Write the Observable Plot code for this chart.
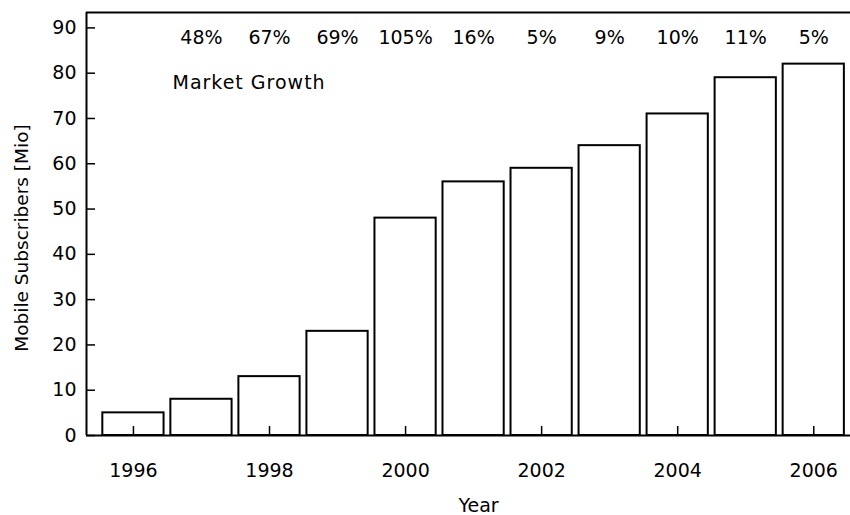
<!DOCTYPE html>
<html>
<head>
<meta charset="utf-8">
<script src="https://cdn.jsdelivr.net/npm/d3@7"></script>
<script src="https://cdn.jsdelivr.net/npm/@observablehq/plot@0.6"></script>
<style>
  html, body { margin: 0; padding: 0; background: #fff; overflow: hidden; }
</style>
</head>
<body>
<div id="chart"></div>
<script>
// Mobile subscribers per year, in millions
const years = [1996, 1997, 1998, 1999, 2000, 2001, 2002, 2003, 2004, 2005, 2006];
const subscribers = [5, 8, 13, 23, 48, 56, 59, 64, 71, 79, 82];

// Year-on-year market growth labels
const growthYears = [1997, 1998, 1999, 2000, 2001, 2002, 2003, 2004, 2005, 2006];
const growthLabels = ["48%", "67%", "69%", "105%", "16%", "5%", "9%", "10%", "11%", "5%"];

// Axis ticks
const yearTicks = [1996, 1998, 2000, 2002, 2004, 2006];
const valueTicks = [0, 10, 20, 30, 40, 50, 60, 70, 80, 90];

const bars = years.map((year, i) => ({year, value: subscribers[i]}));
const growth = growthYears.map((year, i) => ({year, label: growthLabels[i]}));

const xDomain = [1995.31, 2006.54];
const yDomain = [0, 93.4];
const halfBar = 0.45;

const chart = Plot.plot({
  width: 850,
  height: 515,
  marginTop: 12,
  marginBottom: 80,
  marginLeft: 86,
  marginRight: 0,
  style: {fontFamily: "DejaVu Sans", fontSize: "19px", color: "#000", background: "#fff"},
  x: {domain: xDomain, label: null},
  y: {domain: yDomain, label: null},
  marks: [
    Plot.rectY(bars, {
      x1: d => d.year - halfBar,
      x2: d => d.year + halfBar,
      y1: 0,
      y2: "value",
      fill: "white",
      stroke: "black",
      strokeWidth: 2
    }),
    Plot.axisX(yearTicks, {
      tickSize: -9, tickPadding: 37, tickFormat: d => String(d),
      strokeWidth: 1.5, fontSize: 19, label: null
    }),
    Plot.axisY(valueTicks, {
      tickSize: -9, tickPadding: 19,
      strokeWidth: 1.5, fontSize: 19, label: null
    }),
    Plot.ruleX([xDomain[0]], {stroke: "black", strokeWidth: 2}),
    Plot.ruleY([0], {stroke: "black", strokeWidth: 2}),
    Plot.ruleY([yDomain[1]], {stroke: "black", strokeWidth: 2}),
    Plot.text(growth, {
      x: "year", text: "label", frameAnchor: "top",
      dy: 25.5, lineAnchor: "middle", fontSize: 19
    }),
    Plot.text(["Market Growth"], {
      frameAnchor: "top-left", dx: 86, dy: 70,
      textAnchor: "start", lineAnchor: "middle", fontSize: 19
    }),
    Plot.text(["Year"], {
      frameAnchor: "bottom", dx: 10, dy: 70.5,
      lineAnchor: "middle", fontSize: 19
    }),
    Plot.text(["Mobile Subscribers [Mio]"], {
      frameAnchor: "left", rotate: -90, dx: -64, dy: 14,
      textAnchor: "middle", lineAnchor: "middle", fontSize: 18.5
    })
  ]
});

// Slightly wider tracking for the in-plot caption
d3.select(chart).selectAll("text")
  .filter(function() { return this.textContent === "Market Growth"; })
  .attr("letter-spacing", "1px");

document.getElementById("chart").appendChild(chart);
</script>
</body>
</html>
